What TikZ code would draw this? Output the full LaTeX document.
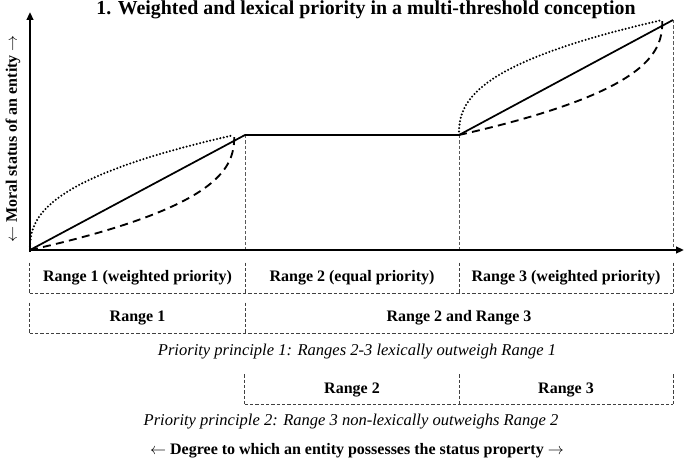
\documentclass[tikz,border=0pt]{standalone}
\usepackage{fontspec}
\setmainfont{Liberation Serif}
\usetikzlibrary{arrows.meta}
\begin{document}
\begin{tikzpicture}[x=0.75pt,y=-0.75pt,
  axis/.style={line width=1.5pt,-{Triangle[length=6pt,width=5pt]}},
  guide/.style={black!65,line width=0.6pt,dash pattern=on 2.5pt off 1.5pt},
  boxline/.style={black!75,line width=0.6pt,dash pattern=on 2.5pt off 1.5pt},
  solidcurve/.style={line width=1.3pt,line join=round},
  dotcurve/.style={line width=1.7pt,dash pattern=on 0pt off 2.6pt,line cap=round},
  dashcurve/.style={line width=1.4pt,dash pattern=on 6pt off 4pt},
  rangebox/.style={minimum height=22.5pt,inner sep=0pt,font=\bfseries\fontsize{12}{14}\selectfont},
  principle/.style={font=\itshape\fontsize{12.4}{14}\selectfont},
  axislabel/.style={font=\bfseries\fontsize{12}{14}\selectfont}
]
\useasboundingbox (0,0) rectangle (685,467);
% key points
\coordinate (O) at (30,250);
\coordinate (A) at (245,135);
\coordinate (B) at (459,135);
\coordinate (C) at (673,20);
\coordinate (Xend) at (684,250);
\coordinate (Yend) at (30,12);
\coordinate (Abase) at (245,250);
\coordinate (Bbase) at (459,250);
\coordinate (Cbase) at (673,250);

% title
\node[font=\bfseries\fontsize{14.9}{17}\selectfont] (title) at (366,10) {1. Weighted and lexical priority in a multi-threshold conception};

% guides
\draw[guide] (A) -- (Abase);
\draw[guide] (B) -- (Bbase);
\draw[guide] (C) -- (Cbase);

% axes
\draw[axis] (30,252) -- (Yend);
\draw[axis] (O) -- (Xend);
\node[axislabel, rotate=90] (ylab) at (13,139) {$\leftarrow$ Moral status of an entity $\rightarrow$};

% curves range 1
\begin{scope}[shift={(O)},x=161.25pt,y=86.25pt]
  \draw[dotcurve] plot[domain=0:1,samples=90,variable=\s] ({0.95*\s*\s*\s*\s*\s},{\s*\s});
  \draw[dashcurve] plot[domain=1:0.05,samples=90,variable=\s] ({0.95*(1-\s*\s*\s*\s*\s)},{1-\s*\s});
\end{scope}
% curves range 3
\begin{scope}[shift={(B)},x=160.5pt,y=86.25pt]
  \draw[dotcurve] plot[domain=0:1,samples=90,variable=\s] ({0.95*\s*\s*\s*\s*\s},{\s*\s});
  \draw[dashcurve] plot[domain=1:0.05,samples=90,variable=\s] ({0.95*(1-\s*\s*\s*\s*\s)},{1-\s*\s});
\end{scope}
% solid path
\draw[solidcurve] (O) -- (A) -- (B) -- (C);

% row 1
\node[rangebox, minimum width=161.25pt] (r1a) at (137.5,278) {Range 1 (weighted priority)};
\node[rangebox, minimum width=160.5pt] (r1b) at (352,278) {Range 2 (equal priority)};
\node[rangebox, minimum width=160.5pt] (r1c) at (566,278) {Range 3 (weighted priority)};
\draw[boxline] (r1a.north west) -- (r1a.south west);
\draw[boxline] (r1a.north east) -- (r1a.south east);
\draw[boxline] (r1b.north east) -- (r1b.south east);
\draw[boxline] (r1c.north east) -- (r1c.south east);
\draw[boxline] (r1a.south west) -- (r1c.south east);

% row 2
\node[rangebox, minimum width=161.25pt] (r2a) at (137.5,318) {Range 1};
\node[rangebox, minimum width=321pt] (r2b) at (459,318) {Range 2 and Range 3};
\draw[boxline] (r2a.north west) -- (r2a.south west);
\draw[boxline] (r2a.north east) -- (r2a.south east);
\draw[boxline] (r2b.north east) -- (r2b.south east);
\draw[boxline] (r2a.south west) -- (r2b.south east);
\node[principle] (p1) at (357,352) {Priority principle 1: Ranges 2-3 lexically outweigh Range 1};

% row 3
\node[rangebox, minimum width=160.5pt] (r3a) at (352,389.5) {Range 2};
\node[rangebox, minimum width=160.5pt] (r3b) at (566,389.5) {Range 3};
\draw[boxline] (r3a.north west) -- (r3a.south west);
\draw[boxline] (r3a.north east) -- (r3a.south east);
\draw[boxline] (r3b.north east) -- (r3b.south east);
\draw[boxline] (r3a.south west) -- (r3b.south east);
\node[principle] (p2) at (351,422) {Priority principle 2: Range 3 non-lexically outweighs Range 2};

% x label
\node[axislabel] (xlab) at (357,451) {$\leftarrow$ Degree to which an entity possesses the status property $\rightarrow$};
\end{tikzpicture}
\end{document}
